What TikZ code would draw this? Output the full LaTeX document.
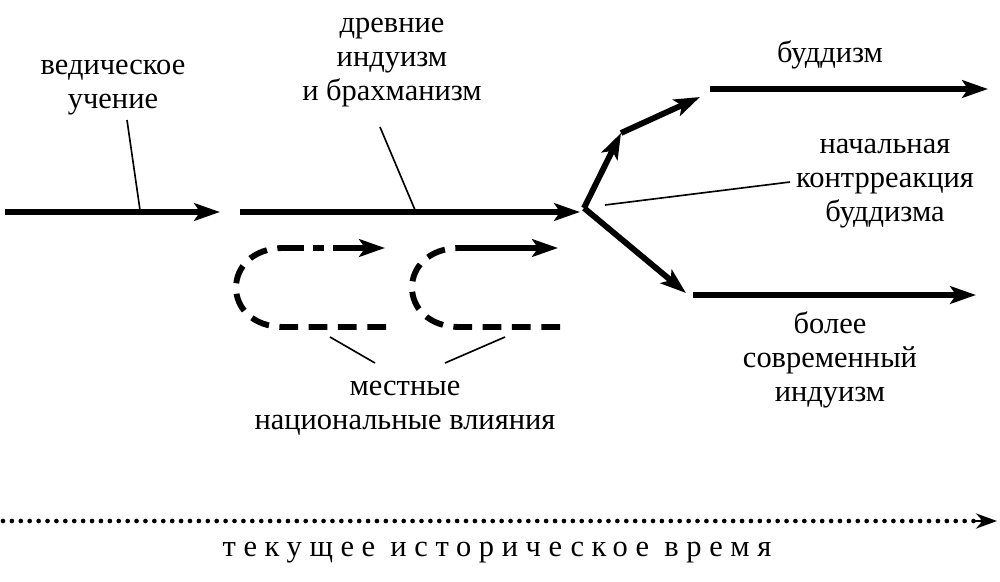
\documentclass[tikz,border=0pt]{standalone}
\usepackage{fontspec}
\setmainfont{Liberation Serif}
\usetikzlibrary{arrows.meta}
\begin{document}
\begin{tikzpicture}[x=0.03cm,y=-0.03cm,
  thk/.style={line width=5pt,-{Stealth[length=22pt,width=15pt,inset=5pt]}},
  thn/.style={line width=1.4pt},
  lbl/.style={font=\fontsize{26}{29}\selectfont,align=center,inner sep=0pt},
  dsh/.style={line width=5pt,dash pattern=on 16pt off 9pt}]
\useasboundingbox (0,0) rectangle (1000,581);
\coordinate (a1s) at (5,212); \coordinate (a1e) at (220,212);
\coordinate (a2s) at (240,212); \coordinate (a2e) at (580,212);
\coordinate (br) at (584,208);
\coordinate (u1) at (621,133); \coordinate (u2) at (700,97);
\coordinate (b1s) at (710,89); \coordinate (b1e) at (988,89);
\coordinate (l1) at (686,293);
\coordinate (b2s) at (693,295); \coordinate (b2e) at (976,295);
\draw[thk] (a1s) -- (a1e);
\draw[thk] (a2s) -- (a2e);
\draw[thk] (br) -- (u1);
\draw[thk] (u1) -- (u2);
\draw[thk] (b1s) -- (b1e);
\draw[thk] (br) -- (l1);
\draw[thk] (b2s) -- (b2e);
% loops
\coordinate (p1) at (284,248); \coordinate (p1e) at (385,248);
\coordinate (q1) at (284,327); \coordinate (q1e) at (386,327);
\draw[dsh] (q1e) -- (q1) .. controls (220,327) and (220,248) .. (p1);
\draw[thk,dash pattern=on 17pt off 8pt on 9pt off 8pt on 30pt] (p1) -- (p1e);
\coordinate (p2) at (460,248); \coordinate (p2e) at (558,248);
\coordinate (q2) at (460,327); \coordinate (q2e) at (560,327);
\draw[dsh] (q2e) -- (q2) .. controls (396,327) and (396,248) .. (p2);
\draw[thk] (p2) -- (p2e);
% labels
\node[lbl] (ved) at (113,88) {ведическое\\учение};
\node[lbl] (dr) at (392,63) {древние\\индуизм\\и брахманизм};
\node[lbl] (bud) at (830,55) {буддизм};
\node[lbl] (nach) at (885,184) {начальная\\контрреакция\\буддизма};
\node[lbl] (bol) at (830,360) {более\\современный\\индуизм};
\node[lbl] (mes) at (405,408) {местные\\национальные влияния};
\coordinate (v1) at (127,120); \coordinate (v2) at (140,210);
\coordinate (d1) at (380,127); \coordinate (d2) at (415,210);
\coordinate (n1) at (790,182); \coordinate (n2) at (605,205);
\coordinate (m1) at (330,337); \coordinate (m2) at (375,363);
\coordinate (m3) at (505,337); \coordinate (m4) at (445,363);
\draw[thn] (v1) -- (v2); \draw[thn] (d1) -- (d2); \draw[thn] (n1) -- (n2);
\draw[thn] (m1) -- (m2); \draw[thn] (m3) -- (m4);
% time axis
\coordinate (t1) at (3,521); \coordinate (t2) at (997,521);
\draw[line width=4pt,line cap=round,dash pattern=on 0pt off 7.6pt] (t1) -- (985,521);
\draw[line width=2pt,-{Stealth[length=18pt,width=13pt]}] (975,521) -- (t2);
\node[lbl] (time) at (497,553) {\addfontfeature{LetterSpace=25}текущее историческое время};
\end{tikzpicture}
\end{document}
